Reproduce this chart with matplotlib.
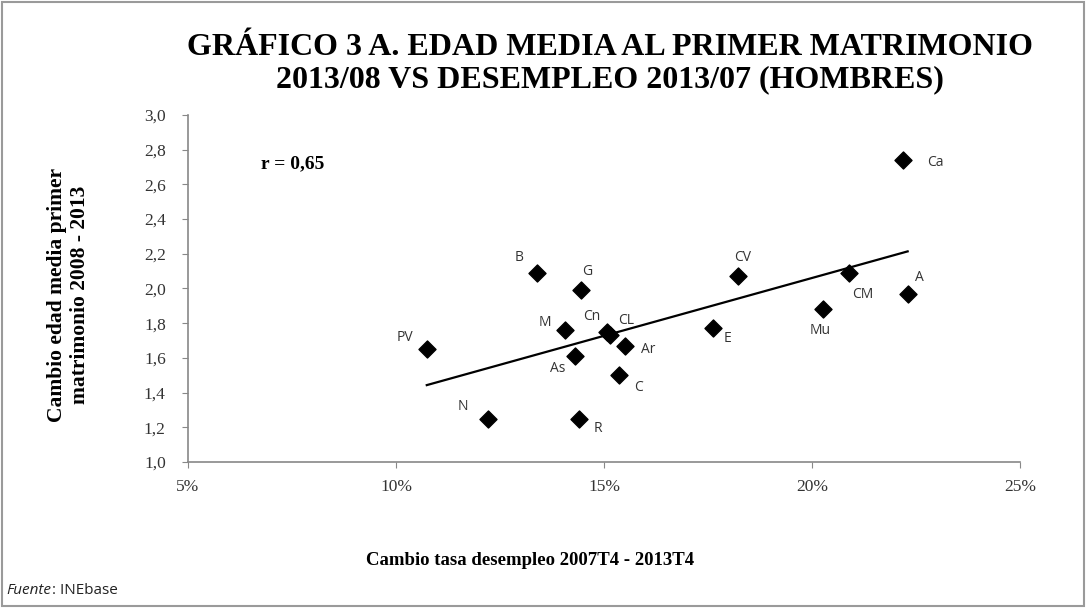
import matplotlib.pyplot as plt
import numpy as np
from matplotlib.patches import Rectangle
from matplotlib.ticker import FuncFormatter

# Change in unemployment rate 2007T4-2013T4 (%) and change in mean age at first marriage
regions = ["PV", "N", "B", "G", "M", "As", "R", "Cn", "CL", "Ar", "C",
           "E", "CV", "Mu", "CM", "A", "Ca"]
desempleo = [10.74, 12.2, 13.39, 14.45, 14.06, 14.31, 14.39, 15.08, 15.14, 15.5, 15.37,
             17.62, 18.22, 20.26, 20.9, 22.3, 22.19]
edad_media = [1.65, 1.25, 2.09, 1.99, 1.76, 1.61, 1.25, 1.75, 1.73, 1.67, 1.50,
              1.77, 2.07, 1.88, 2.09, 1.97, 2.74]

# label offsets in pixels (dx, dy) for each region
label_offsets = {
    "PV": (-22, 12), "N": (-25, 12), "B": (-18, 15), "G": (6, 19), "M": (-20, 8),
    "As": (-18, -12), "R": (19, -10), "Cn": (-16, 15), "CL": (16, 15), "Ar": (23, -4),
    "C": (19, -12), "E": (15, -10), "CV": (5, 19), "Mu": (-3, -21), "CM": (13, -22),
    "A": (12, 16), "Ca": (32, -2),
}

serif = "Liberation Serif"
sans = "Open Sans"

fig = plt.figure(figsize=(10.86, 6.08), dpi=100)
ax = fig.add_axes([0.1731, 0.2401, 0.7661, 0.5708])

ax.scatter(desempleo, edad_media, marker="D", s=75, color="black", zorder=3)

# linear trend line over the data range
slope, intercept = np.polyfit(desempleo, edad_media, 1)
xs = np.array([min(desempleo), max(desempleo)])
ax.plot(xs, slope * xs + intercept, color="black", lw=1.6, zorder=2)

for name, x, y in zip(regions, desempleo, edad_media):
    dx, dy = label_offsets[name]
    ax.annotate(name, (x, y), xytext=(dx, dy), textcoords="offset pixels",
                ha="center", va="center", fontsize=10, color="#333333", family=sans)

ax.set_xlim(5, 25)
ax.set_ylim(1.0, 3.0)
ax.set_xticks(np.arange(5, 26, 5))
ax.set_yticks(np.arange(1.0, 3.01, 0.2))
ax.xaxis.set_major_formatter(FuncFormatter(lambda v, p: f"{v:.0f}%"))
ax.yaxis.set_major_formatter(FuncFormatter(lambda v, p: f"{v:.1f}".replace(".", ",")))
ax.tick_params(axis="both", direction="out", length=4, color="#888888",
               labelsize=12.5, labelcolor="#333333")
for lab in ax.get_xticklabels() + ax.get_yticklabels():
    lab.set_family(serif)
ax.tick_params(axis="x", pad=8)
ax.tick_params(axis="y", pad=12)

for side in ["top", "right"]:
    ax.spines[side].set_visible(False)
for side in ["left", "bottom"]:
    ax.spines[side].set_color("#888888")
    ax.spines[side].set_linewidth(1.2)

ax.text(0.088, 0.86, "r = 0,65", transform=ax.transAxes, fontsize=14,
        fontweight="bold", family=serif, ha="left", va="center")

# titles and axis labels
fig.text(0.562, 0.922, "GRÁFICO 3 A. EDAD MEDIA AL PRIMER MATRIMONIO", ha="center", va="center",
         fontsize=23, fontweight="bold", family=serif)
fig.text(0.562, 0.869, "2013/08 VS DESEMPLEO 2013/07 (HOMBRES)", ha="center", va="center",
         fontsize=23, fontweight="bold", family=serif)
fig.text(0.063, 0.515, "Cambio edad media primer\nmatrimonio 2008 - 2013", rotation=90,
         ha="center", va="center", fontsize=15.5, fontweight="bold", family=serif,
         linespacing=1.2)
fig.text(0.488, 0.078, "Cambio tasa desempleo 2007T4 - 2013T4", ha="center", va="center",
         fontsize=13.5, fontweight="bold", family=serif)

fuente = fig.text(0.006, 0.028, "Fuente", style="italic", fontsize=11, family=sans,
                  ha="left", va="center", color="#222222")
fig.text(0, 0, "", visible=False)
plt.annotate(": INEbase", xy=(1, 0.5), xycoords=fuente, ha="left", va="center",
             fontsize=11, family=sans, color="#222222", annotation_clip=False)

# outer frame
fig.patches.append(Rectangle((0.002, 0.003), 0.996, 0.994, transform=fig.transFigure,
                             fill=False, edgecolor="#9a9a9a", lw=1.5))

plt.savefig("out.png", dpi=100)
plt.close()
